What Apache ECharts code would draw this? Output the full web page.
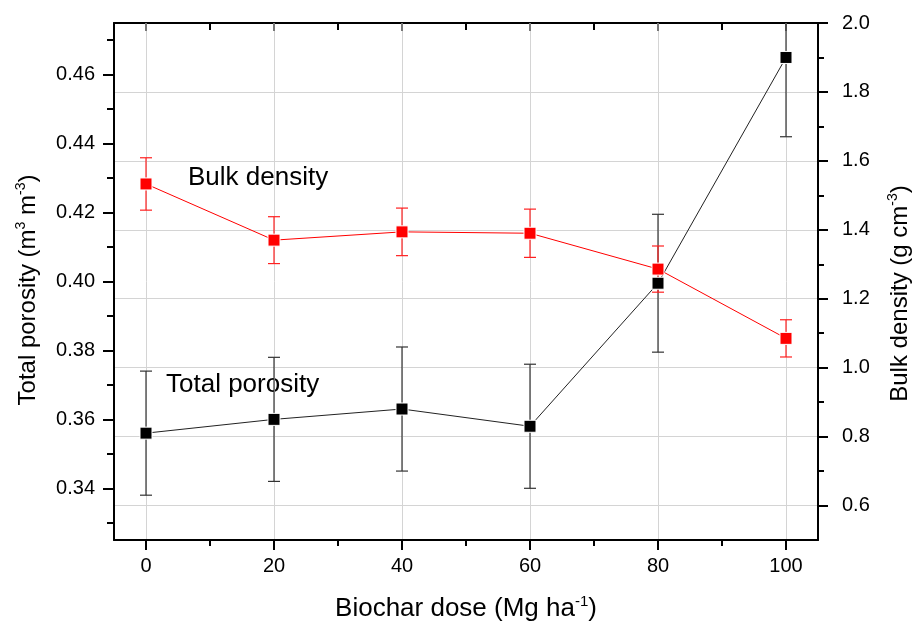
<!DOCTYPE html>
<html>
<head>
<meta charset="utf-8">
<script src="https://cdn.jsdelivr.net/npm/echarts@6/dist/echarts.min.js"></script>
<style>
html,body{margin:0;padding:0;background:#fff;}
#main{width:914px;height:622px;}
</style>
</head>
<body>
<div id="main"></div>
<script>
var doses = [0, 20, 40, 60, 80, 100];
var porosity = [0.356, 0.360, 0.363, 0.358, 0.3995, 0.465];
var porosityErr = [0.018, 0.018, 0.018, 0.018, 0.020, 0.023];
var bulkDensity = [1.533, 1.370, 1.394, 1.390, 1.286, 1.085];
var bulkErr = [0.076, 0.068, 0.069, 0.070, 0.067, 0.054];
var xTicks = [0, 20, 40, 60, 80, 100];
var leftTicks = [0.34, 0.36, 0.38, 0.40, 0.42, 0.44, 0.46];
var rightTicks = [0.6, 0.8, 1.0, 1.2, 1.4, 1.6, 1.8, 2.0];

var FONT = 'Liberation Sans, Arial, sans-serif';
var richName = {
	m: {fontSize: 24, fontFamily: FONT, color: '#000', lineHeight: 28},
	s: {fontSize: 14, fontFamily: FONT, color: '#000', lineHeight: 14, verticalAlign: 'top'}
};
var richX = {
	m: {fontSize: 26, fontFamily: FONT, color: '#000', lineHeight: 30},
	s: {fontSize: 15, fontFamily: FONT, color: '#000', lineHeight: 15, verticalAlign: 'top'}
};

function pairs(xs, ys){
	return xs.map(function(x, i){ return [x, ys[i]]; });
}
function errData(xs, ys, es){
	return xs.map(function(x, i){ return [x, ys[i] - es[i], ys[i] + es[i]]; });
}
/*误差棒, 超出绘图区的部分截掉*/
function errorBar(color){
	return function(params, api){
		var x = api.value(0);
		var lo = api.coord([x, api.value(1)]);
		var hi = api.coord([x, api.value(2)]);
		var top = params.coordSys.y, bottom = params.coordSys.y + params.coordSys.height;
		var w = 6;
		var st = {stroke: color, lineWidth: 1.2};
		var kids = [];
		var y1 = Math.min(lo[1], bottom), y2 = Math.max(hi[1], top);
		kids.push({type: 'line', shape: {x1: lo[0], y1: y1, x2: hi[0], y2: y2}, style: st});
		if(lo[1] <= bottom){
			kids.push({type: 'line', shape: {x1: lo[0] - w, y1: lo[1], x2: lo[0] + w, y2: lo[1]}, style: st});
		}
		if(hi[1] >= top){
			kids.push({type: 'line', shape: {x1: hi[0] - w, y1: hi[1], x2: hi[0] + w, y2: hi[1]}, style: st});
		}
		return {type: 'group', children: kids};
	};
}

var myChart = echarts.init(document.getElementById('main'));
var option = {
	backgroundColor: '#fff',
	animation: false,
	grid: {left: 114, right: 96, top: 23, bottom: 82, containLabel: false, outerBoundsMode: 'none'},
	xAxis: [
		{
			type: 'value', min: -5, max: 105, splitNumber: 5,
			name: '{m|Biochar dose (Mg ha}{s|-1}{m|)}',
			nameLocation: 'middle', nameGap: 54,
			nameTextStyle: {rich: richX},
			axisLine: {onZero: false, lineStyle: {color: '#000', width: 2}},
			axisTick: {show: true, length: 10, lineStyle: {color: '#000', width: 2}, customValues: xTicks},
			minorTick: {show: true, splitNumber: 2, length: 6, lineStyle: {color: '#000', width: 2}},
			axisLabel: {fontSize: 20, fontFamily: FONT, color: '#000', margin: 16, customValues: xTicks},
			splitLine: {show: true, lineStyle: {color: '#d4d4d4', width: 1}}
		},
		{
			type: 'value', min: -5, max: 105, splitNumber: 5, position: 'top',
			axisLine: {onZero: false, lineStyle: {color: '#000', width: 2}},
			axisTick: {show: true, inside: true, length: 8, lineStyle: {color: '#777', width: 2}, customValues: xTicks},
			minorTick: {show: true, splitNumber: 2, length: 7, lineStyle: {color: '#000', width: 2}},
			axisLabel: {show: false},
			splitLine: {show: false}
		}
	],
	yAxis: [
		{
			type: 'value', min: 0.325, max: 0.475, splitNumber: 7,
			name: '{m|Total porosity (m}{s|3}{m| m}{s|-3}{m|)}',
			nameLocation: 'middle', nameGap: 72, nameRotate: 90,
			nameTextStyle: {rich: richName, padding: [0, 17, 0, 0]},
			axisLine: {onZero: false, lineStyle: {color: '#000', width: 2}},
			axisTick: {show: true, length: 11, lineStyle: {color: '#000', width: 2}, customValues: leftTicks},
			minorTick: {show: true, splitNumber: 2, length: 7, lineStyle: {color: '#000', width: 2}},
			axisLabel: {
				fontSize: 20, fontFamily: FONT, color: '#000', margin: 19, customValues: leftTicks,
				formatter: function(v){ return v.toFixed(2); }
			},
			splitLine: {show: false}
		},
		{
			type: 'value', min: 0.5, max: 2.0, splitNumber: 7, position: 'right',
			name: '{m|Bulk density (g cm}{s|-3}{m|)}',
			nameLocation: 'middle', nameGap: 68, nameRotate: 90,
			nameTextStyle: {rich: richName, padding: [0, 24, 0, 0]},
			axisLine: {onZero: false, lineStyle: {color: '#000', width: 2}},
			axisTick: {show: true, length: 10, lineStyle: {color: '#000', width: 2}, customValues: rightTicks},
			minorTick: {show: true, splitNumber: 2, length: 6, lineStyle: {color: '#000', width: 2}},
			axisLabel: {
				fontSize: 20, fontFamily: FONT, color: '#000', margin: 24, customValues: rightTicks,
				formatter: function(v){ return v.toFixed(1); }
			},
			splitLine: {show: true, lineStyle: {color: '#d4d4d4', width: 1}}
		}
	],
	graphic: [
		{type: 'text', x: 188, y: 178, style: {text: 'Bulk density', font: '26px Liberation Sans', fill: '#000', verticalAlign: 'middle'}},
		{type: 'text', x: 166, y: 385, style: {text: 'Total porosity', font: '26px Liberation Sans', fill: '#000', verticalAlign: 'middle'}}
	],
	series: [
		{
			name: 'porosity err', type: 'custom', xAxisIndex: 0, yAxisIndex: 0, z: 1,
			renderItem: errorBar('#333'), data: errData(doses, porosity, porosityErr)
		},
		{
			name: 'Total porosity', type: 'line', xAxisIndex: 0, yAxisIndex: 0, z: 3,
			data: pairs(doses, porosity),
			symbol: 'rect', symbolSize: 12,
			lineStyle: {color: '#222', width: 1},
			itemStyle: {color: '#000', borderColor: '#fff', borderWidth: 1}
		},
		{
			name: 'bulk err', type: 'custom', xAxisIndex: 0, yAxisIndex: 1, z: 1,
			renderItem: errorBar('#ff2020'), data: errData(doses, bulkDensity, bulkErr)
		},
		{
			name: 'Bulk density', type: 'line', xAxisIndex: 0, yAxisIndex: 1, z: 4,
			data: pairs(doses, bulkDensity),
			symbol: 'rect', symbolSize: 12,
			lineStyle: {color: '#ff0000', width: 1},
			itemStyle: {color: '#ff0000', borderColor: '#fff', borderWidth: 1}
		}
	]
};
myChart.setOption(option);
</script>
</body>
</html>
